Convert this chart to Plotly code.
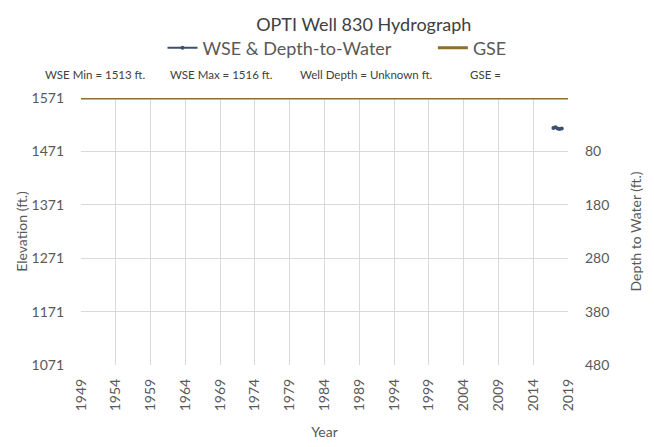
import plotly.graph_objects as go

# Data
wse_years = [2016.9, 2017.2, 2017.5, 2017.8, 2018.1]
wse_elev = [1515, 1516, 1514, 1513, 1514]
gse_years = [1949, 2019]
gse_elev = [1571, 1571]
x_ticks = list(range(1949, 2020, 5))
y_ticks = [1071, 1171, 1271, 1371, 1471, 1571]
depth_ticks = [80, 180, 280, 380, 480]
gse_ref = 1551
annot_texts = ["WSE Min = 1513 ft.", "WSE Max = 1516 ft.", "Well Depth = Unknown ft.", "GSE ="]

font_fam = "Lato, Liberation Sans, sans-serif"
txt = "#595959"

L, R, T, B = 73, 94, 90, 90
W, H = 654, 447

fig = go.Figure()
fig.add_trace(go.Scatter(x=wse_years, y=wse_elev, mode="lines+markers",
                         name="WSE & Depth-to-Water\u00a0\u00a0\u00a0\u00a0\u00a0\u00a0\u00a0\u00a0",
                         line=dict(color="#3E4F6E", width=2),
                         marker=dict(size=4, color="#3E4F6E")))
fig.add_trace(go.Scatter(x=gse_years, y=gse_elev, mode="lines", name="GSE",
                         line=dict(color="#8E6F2A", width=3)))
depth_vals = [gse_ref - v for v in wse_elev]
fig.add_trace(go.Scatter(x=wse_years, y=depth_vals, yaxis="y2", mode="markers",
                         marker=dict(opacity=0), showlegend=False, hoverinfo="skip"))

fig.update_layout(
    width=W, height=H,
    margin=dict(l=L, r=R, t=T, b=B, autoexpand=False),
    paper_bgcolor="white", plot_bgcolor="white",
    font=dict(family=font_fam, color=txt, size=14),
    title=dict(text="OPTI Well 830 Hydrograph", x=0.544, xanchor="center", y=0.962,
               yanchor="middle", font=dict(size=18, color="#404040")),
    legend=dict(orientation="h", x=(329 - L) / (W - L - R), xanchor="center",
                y=(H - B - 40) / (H - T - B),
                yanchor="middle", font=dict(size=18, color=txt),
                bgcolor="rgba(0,0,0,0)", itemwidth=30),
    showlegend=True,
    xaxis=dict(range=[1949, 2019], tickmode="array", tickvals=x_ticks, automargin=False,
               tickangle=-90, showgrid=True, gridcolor="#d9d9d9", gridwidth=1,
               zeroline=False, showline=False, ticks="", tickfont=dict(size=14),
               ticklabelstandoff=10,
               title=dict(text="Year", font=dict(size=14), standoff=16)),
    yaxis=dict(range=[1071, 1571], tickmode="array", tickvals=y_ticks, automargin=False,
               showgrid=True, gridcolor="#d9d9d9", zeroline=False, showline=False,
               tickfont=dict(size=14), ticklabelstandoff=16,
               title=dict(text="Elevation (ft.)", font=dict(size=14), standoff=0)),
    yaxis2=dict(range=[480, -20], overlaying="y", side="right", tickmode="array",
                tickvals=depth_ticks, showgrid=False, zeroline=False, automargin=False,
                tickfont=dict(size=14), ticklabelstandoff=16,
                title=dict(text="Depth to Water (ft.)", font=dict(size=14), standoff=22)),
)

pw = W - L - R
ph = H - T - B
ann_x = [35, 160, 290, 460]
for t, xx in zip(annot_texts, ann_x):
    fig.add_annotation(text=t, x=(xx - L) / pw, y=(H - B - 66) / ph,
                       xref="paper", yref="paper",
                       showarrow=False, font=dict(size=11.5, color="#404040"),
                       xanchor="left", yanchor="middle")

fig.write_html("out.html")
